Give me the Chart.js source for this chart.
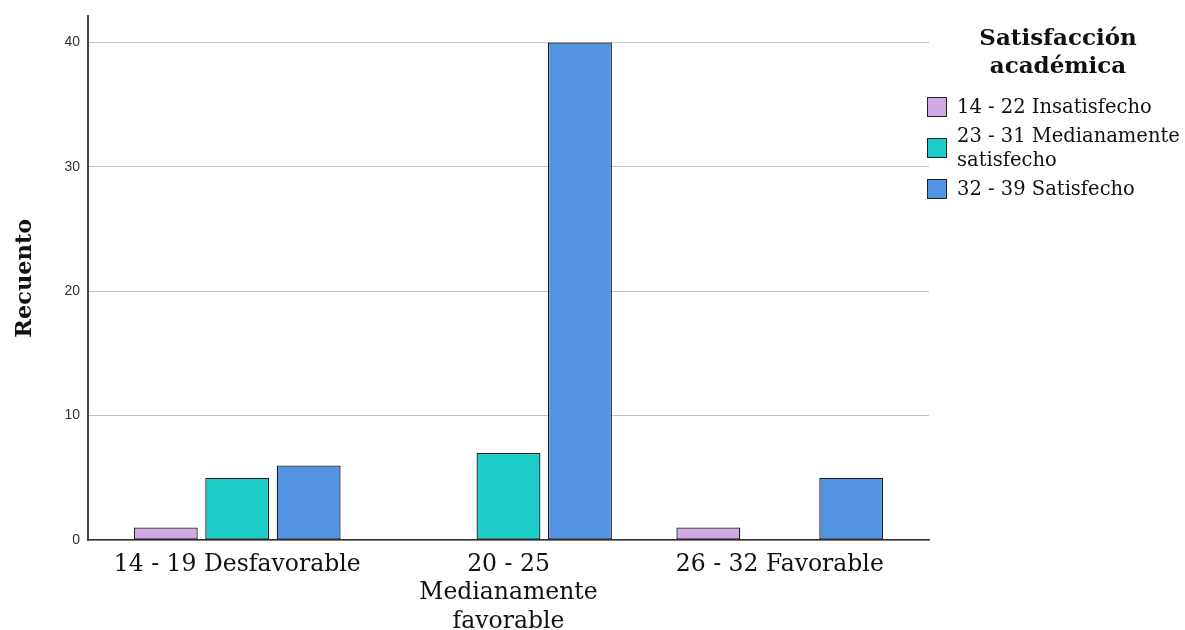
<!DOCTYPE html>
<html>
<head>
<meta charset="utf-8">
<script src="https://cdn.jsdelivr.net/npm/chart.js@4/dist/chart.umd.min.js"></script>
<style>
body { margin: 0; background: #fff; }
#wrap { position: relative; width: 1185px; height: 630px; overflow: hidden; }
#chart { position: absolute; left: 0; top: 0; }
#legend { position: absolute; left: 927px; top: 23px; width: 258px; font-family: "DejaVu Serif", serif; color: #111; }
#legend .ltitle { font-weight: bold; font-size: 23px; line-height: 28px; text-align: center; width: 262px; margin-bottom: 16px; }
#legend .row { display: flex; align-items: center; margin-bottom: 5px; }
#legend .box { width: 18px; height: 18px; border: 1px solid #222; flex: none; margin-right: 10px; }
#legend .txt { font-size: 19.5px; line-height: 24px; width: 229px; }
</style>
</head>
<body>
<div id="wrap">
<canvas id="chart" width="1185" height="630"></canvas>
<div id="legend"></div>
</div>
<script>
// data
var categories = [['14 - 19 Desfavorable'], ['20 - 25', 'Medianamente', 'favorable'], ['26 - 32 Favorable']];
var seriesNames = ['14 - 22 Insatisfecho', '23 - 31 Medianamente satisfecho', '32 - 39 Satisfecho'];
var insatisfecho = [1, 0, 1];
var medianamente = [5, 7, 0];
var satisfecho = [6, 40, 5];
var yTicks = [0, 10, 20, 30, 40];
var yTitle = 'Recuento';
var legendTitle = 'Satisfacción académica';

var colors = ['#cfa8e4', '#1dcdc9', '#5294e2'];
var seriesValues = [insatisfecho, medianamente, satisfecho];

var datasets = seriesValues.map(function(vals, s) {
	return {
		label: seriesNames[s],
		// an empty count draws no bar
		data: vals.map(function(v, i) { return { x: i, y: v === 0 ? null : v }; }),
		backgroundColor: colors[s],
		borderColor: '#1e1e1e',
		borderWidth: 1.3,
		borderSkipped: false,
		categoryPercentage: 0.79,
		barPercentage: 0.895
	};
});

var ctx = document.getElementById('chart');
var chart = new Chart(ctx, {
	type: 'bar',
	data: { datasets: datasets },
	options: {
		responsive: false,
		animation: false,
		layout: { padding: { top: 15, right: 256, bottom: 0, left: 0 } },
		plugins: { legend: { display: false }, tooltip: { enabled: false } },
		scales: {
			x: {
				type: 'linear',
				offset: false,
				min: -0.55,
				max: 2.55,
				afterBuildTicks: function(scale) {
					scale.ticks = categories.map(function(c, i) { return { value: i }; });
				},
				afterFit: function(scale) { scale.height = 90; },
				grid: { display: false, drawTicks: false, offset: false },
				border: { display: true, color: '#333', width: 1.5 },
				ticks: {
					autoSkip: false,
					maxRotation: 0,
					padding: 11,
					color: '#111',
					font: { family: 'DejaVu Serif', size: 23.5, lineHeight: 1.2 },
					callback: function(v, i) { return categories[i]; }
				}
			},
			y: {
				min: 0,
				max: 42.1,
				afterBuildTicks: function(scale) {
					scale.ticks = yTicks.map(function(v) { return { value: v }; });
				},
				afterFit: function(scale) { scale.width = 88; },
				grid: { color: '#c4c4c4', lineWidth: 1, drawTicks: false },
				border: { color: '#444', width: 2 },
				ticks: { padding: 8, color: '#333', font: { family: 'Liberation Sans', size: 14 } },
				title: {
					display: true,
					text: yTitle,
					color: '#111',
					padding: { top: 12, bottom: 0 },
					font: { family: 'DejaVu Serif', size: 22.5, weight: 'bold' }
				}
			}
		}
	}
});

// legend on the right
var legend = document.getElementById('legend');
var html = '<div class="ltitle">' + legendTitle + '</div>';
for (var i = 0; i < seriesNames.length; i++) {
	html += '<div class="row"><div class="box" style="background:' + colors[i] + '"></div>' +
		'<div class="txt">' + seriesNames[i] + '</div></div>';
}
legend.innerHTML = html;
</script>
</body>
</html>
